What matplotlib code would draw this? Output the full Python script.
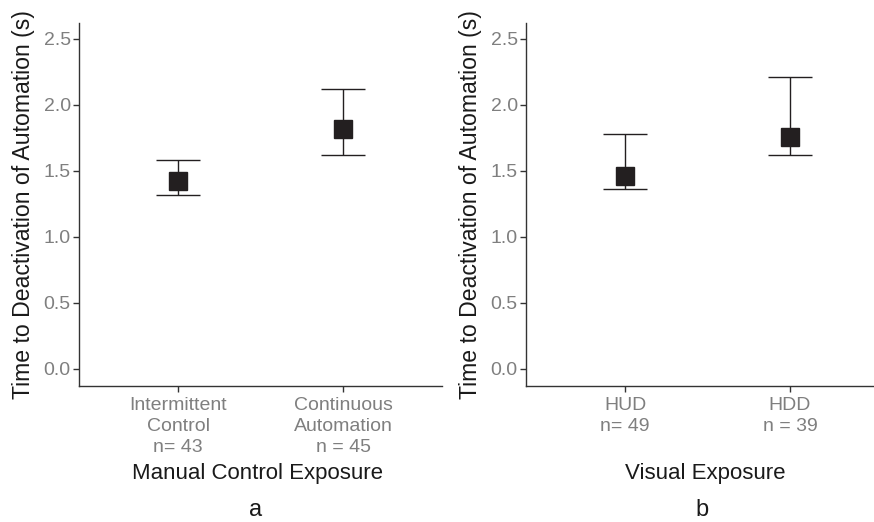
import matplotlib.pyplot as plt

plt.rcParams['font.family'] = ['Liberation Sans', 'DejaVu Sans']

# panel a: manual control exposure
labels_a = ['Intermittent\nControl\nn= 43', 'Continuous\nAutomation\nn = 45']
mean_a = [1.42, 1.82]
low_a = [1.32, 1.62]
high_a = [1.58, 2.12]

# panel b: visual exposure
labels_b = ['HUD\nn= 49', 'HDD\nn = 39']
mean_b = [1.46, 1.76]
low_b = [1.36, 1.62]
high_b = [1.78, 2.21]

ylabel = 'Time to Deactivation of Automation (s)'
ink = '#231f20'
grey = '#7f7f7f'

fig = plt.figure(figsize=(8.74, 5.22), dpi=100)
ax_a = fig.add_axes([79 / 874, 136 / 522, 363 / 874, 363 / 522])
ax_b = fig.add_axes([526 / 874, 136 / 522, 363 / 874, 363 / 522])


def panel(ax, labels, mean, low, high, xlabel):
    pos = list(range(1, len(labels) + 1))
    err = [[m - l for m, l in zip(mean, low)], [h - m for m, h in zip(mean, high)]]
    ax.errorbar(pos, mean, yerr=err, fmt='none', ecolor=ink, elinewidth=1.0,
                capsize=16, capthick=1.0, zorder=2)
    ax.plot(pos, mean, 's', color=ink, markersize=12.5, zorder=3)
    ax.set_xlim(0.4, len(labels) + 0.6)
    ax.set_ylim(-0.13, 2.62)
    ax.set_yticks([0.0, 0.5, 1.0, 1.5, 2.0, 2.5])
    ax.set_yticklabels(['0.0', '0.5', '1.0', '1.5', '2.0', '2.5'])
    ax.set_xticks(pos)
    ax.set_xticklabels(labels, linespacing=1.32)
    ax.tick_params(colors='#333333', labelcolor=grey, labelsize=14,
                   length=4, width=1)
    ax.tick_params(axis='x', pad=4)
    ax.tick_params(axis='y', pad=2)
    for side in ['top', 'right']:
        ax.spines[side].set_visible(False)
    for side in ['left', 'bottom']:
        ax.spines[side].set_color('#333333')
        ax.spines[side].set_linewidth(1)
    ax.set_ylabel(ylabel, fontsize=16.6, color='#1a1a1a', va='center')
    ax.yaxis.set_label_coords(-0.152, 0.5)
    ax.set_xlabel(xlabel, fontsize=16, color='#1a1a1a', va='center')
    ax.xaxis.set_label_coords(0.493, -0.24)


panel(ax_a, labels_a, mean_a, low_a, high_a, 'Manual Control Exposure')
panel(ax_b, labels_b, mean_b, low_b, high_b, 'Visual Exposure')

fig.text(256 / 874, 1 - 516 / 522, 'a', fontsize=17, color='#1a1a1a',
         ha='center', va='baseline')
fig.text(702 / 874, 1 - 516 / 522, 'b', fontsize=17, color='#1a1a1a',
         ha='center', va='baseline')

fig.savefig('out.png', dpi=100)
